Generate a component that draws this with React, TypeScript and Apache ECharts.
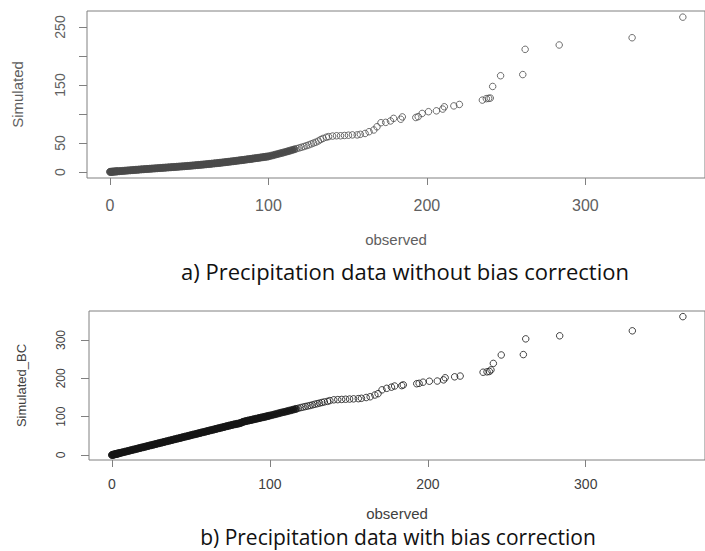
import React, { useEffect, useRef } from "react";
import * as echarts from "echarts";

// Observed quantiles (shared by both panels): dense band then sparse tail
const observedDense = [
  0, 0.5, 1, 1.5, 2, 2.5, 3, 3.5, 4, 4.5, 5, 6, 7, 8, 9, 10, 11, 12, 13, 14, 15, 16, 17, 18, 19, 20,
  21, 22, 23, 24, 25, 26, 27, 28, 29, 30, 31, 32, 33, 34, 35, 36, 37, 38, 39, 40, 41, 42, 43, 44, 45,
  46, 47, 48, 49, 50, 51, 52, 53, 54, 55, 56, 57, 58, 59, 60, 61, 62, 63, 64, 65, 66, 67, 68, 69, 70,
  71, 72, 73, 74, 75, 76, 77, 78, 79, 80, 81, 82, 83, 84, 85, 86, 87, 88, 89, 90, 91, 92, 93, 94, 95,
  96, 97, 98, 99, 100, 101.5, 103, 104.5, 106, 107.5, 109, 110.5, 112, 113.5, 115, 116.5, 118, 119.5,
  121, 122.5, 124, 125.5, 127, 128.5, 130, 131.5, 133, 134.5,
];
const simulatedDense = [
  0.3, 0.4, 0.5, 0.6, 0.7, 0.8, 0.9, 1.0, 1.1, 1.2, 1.3, 1.5, 1.7, 1.9, 2.2, 2.4, 2.6, 2.8, 3.0, 3.3,
  3.5, 3.7, 3.9, 4.1, 4.4, 4.6, 4.8, 5.0, 5.2, 5.4, 5.6, 5.8, 6.0, 6.2, 6.4, 6.6, 6.8, 7.0, 7.2, 7.4,
  7.6, 7.8, 8.0, 8.2, 8.4, 8.6, 8.8, 9.0, 9.2, 9.4, 9.6, 9.8, 10.0, 10.2, 10.5, 10.7, 10.9, 11.2, 11.4,
  11.7, 11.9, 12.2, 12.4, 12.7, 12.9, 13.2, 13.5, 13.8, 14.0, 14.3, 14.6, 14.9, 15.2, 15.5, 15.8, 16.1,
  16.4, 16.7, 17.1, 17.4, 17.7, 18.0, 18.4, 18.7, 19.1, 19.4, 19.8, 20.1, 20.5, 20.8, 21.2, 21.6, 22.0,
  22.3, 22.7, 23.1, 23.5, 23.9, 24.2, 24.6, 25.0, 25.4, 25.8, 26.2, 26.6, 27.0, 28.0, 29.0, 30.1, 31.2,
  32.3, 33.3, 34.4, 35.6, 36.8, 38.0, 39.2, 40.4, 41.6, 42.8, 44.0, 45.4, 46.8, 48.4, 50.0, 51.5, 53.5,
  56.0, 58.0,
];
const simulatedBCDense = [
  0, 0.5, 1, 1.5, 2.1, 2.6, 3.1, 3.6, 4.1, 4.6, 5.1, 6.2, 7.2, 8.2, 9.3, 10.3, 11.3, 12.4, 13.4, 14.4,
  15.5, 16.5, 17.6, 18.6, 19.6, 20.6, 21.7, 22.7, 23.7, 24.8, 25.8, 26.8, 27.9, 28.9, 29.9, 31.0, 32.0,
  33.0, 34.1, 35.1, 36.1, 37.2, 38.2, 39.2, 40.3, 41.3, 42.3, 43.4, 44.4, 45.4, 46.5, 47.5, 48.5, 49.6,
  50.6, 51.6, 52.7, 53.7, 54.7, 55.8, 56.8, 57.8, 58.9, 59.9, 60.9, 62.0, 63.0, 64.0, 65.1, 66.1, 67.1,
  68.2, 69.2, 70.2, 71.3, 72.3, 73.3, 74.4, 75.4, 76.4, 77.5, 78.5, 79.5, 80.3, 81.2, 82.0, 83.0, 84.5,
  86.5, 87.6, 88.6, 89.6, 90.5, 91.4, 92.4, 93.3, 94.3, 95.2, 96.2, 97.1, 98.1, 99.0, 100.0, 100.9,
  101.9, 102.9, 104.4, 106.0, 107.6, 109.3, 110.9, 112.3, 113.8, 115.4, 117.0, 118.6, 120.3, 122.0,
  123.6, 125.0, 126.5, 127.8, 129.2, 130.8, 132.5, 134.0, 135.5, 137.0, 138.5,
];

const observedTail = [
  136.5, 138, 140.5, 143, 145.5, 148, 150.5, 153, 156, 158, 161, 163.5, 166.5, 168.5, 171, 174, 177,
  179, 183.5, 184.5, 193, 194.5, 197, 201, 206, 210, 211, 217, 220.5, 235, 237.5, 239, 240, 241.5,
  246.5, 260.5, 262, 283.5, 329.5, 361.5,
];
const simulatedTail = [
  60, 61, 62, 62.5, 62.5, 63, 63.5, 64, 64, 65, 66.5, 69.5, 72.5, 78, 85, 85.6, 88, 92.5, 91, 95, 94,
  95.5, 101, 104, 105.5, 108.5, 112.5, 114, 116.5, 124, 126.5, 127, 127.5, 147.5, 166, 168, 211.5, 219,
  231.5, 267,
];
const simulatedBCTail = [
  140, 142, 144, 144.5, 145, 145.5, 146, 146.5, 147, 148, 150, 152, 156.5, 160, 170, 174, 177, 180, 181,
  183, 186, 187, 190, 192.5, 193, 196, 201.5, 204, 206, 216, 217, 218, 222, 239, 261, 262, 303, 311,
  324, 361,
];

const xTicks = [0, 100, 200, 300];
const yTicksA = [0, 50, 100, 150, 200, 250];
const yLabelsA = [0, 50, 150, 250];
const yTicksB = [0, 100, 200, 300];

const captionA = "a) Precipitation data without bias correction";
const captionB = "b) Precipitation data with bias correction";

// Where the overlapping circles stop forming a solid band (observed value)
const solidBandLimit = 117;

export default function App() {
  const ref = useRef<HTMLDivElement>(null);

  useEffect(() => {
    if (!ref.current) return;
    const chart = echarts.init(ref.current, undefined, { renderer: "svg" });
    const obs = observedDense.concat(observedTail);
    const simA = simulatedDense.concat(simulatedTail);
    const simB = simulatedBCDense.concat(simulatedBCTail);
    const dataA = obs.map((o, i) => [o, simA[i]]);
    const dataB = obs.map((o, i) => [o, simB[i]]);
    const solidA = dataA.filter((d) => d[0] < solidBandLimit);
    const openA = dataA.filter((d) => d[0] >= solidBandLimit);
    const solidB = dataB.filter((d) => d[0] < solidBandLimit);
    const openB = dataB.filter((d) => d[0] >= solidBandLimit);

    const font = "'Liberation Sans', Arial, sans-serif";
    const frame = "#808080";
    const colA = "#4a4a4a";
    const colB = "#151515";

    const xAxisBase = (
      grid: number,
      labelSize: number,
      labelColor: string,
      margin: number,
      gap: number
    ) => ({
      gridIndex: grid,
      type: "value",
      min: -14.5,
      max: 375.5,
      axisLine: { show: false, onZero: false },
      splitLine: { show: false },
      axisTick: { show: true, length: 7, customValues: xTicks, lineStyle: { color: frame } },
      axisLabel: {
        customValues: xTicks,
        fontSize: labelSize,
        color: labelColor,
        fontFamily: font,
        margin,
      },
      name: "observed",
      nameLocation: "middle",
      nameGap: gap,
      nameTextStyle: { fontSize: 15, color: labelColor, fontFamily: font },
    });

    const scatter = (
      xi: number,
      data: number[][],
      color: string,
      filled: boolean
    ) => ({
      type: "scatter",
      xAxisIndex: xi,
      yAxisIndex: xi,
      data,
      symbol: "circle",
      symbolSize: filled ? 7 : 6.5,
      itemStyle: {
        color: filled ? color : "rgba(0,0,0,0)",
        borderColor: color,
        borderWidth: 1,
      },
      silent: true,
    });

    chart.setOption({
      animation: false,
      grid: [
        { left: 87, top: 11, width: 628, height: 167, show: true, borderColor: frame, borderWidth: 1 },
        { left: 89, top: 311, width: 618, height: 149, show: true, borderColor: frame, borderWidth: 1 },
      ],
      xAxis: [xAxisBase(0, 16, "#606060", 19, 54), xAxisBase(1, 14, "#404040", 17, 46)],
      yAxis: [
        {
          gridIndex: 0,
          type: "value",
          min: -10.3,
          max: 277.6,
          axisLine: { show: false, onZero: false },
          splitLine: { show: false },
          axisTick: { show: true, length: 8, customValues: yTicksA, lineStyle: { color: frame } },
          axisLabel: {
            customValues: yLabelsA,
            rotate: 90,
            fontSize: 14,
            color: "#606060",
            fontFamily: font,
            margin: 20,
          },
          name: "Simulated",
          nameLocation: "middle",
          nameRotate: 90,
          nameGap: 62,
          nameTextStyle: { fontSize: 15, color: "#606060", fontFamily: font },
        },
        {
          gridIndex: 1,
          type: "value",
          min: -13,
          max: 375.7,
          axisLine: { show: false, onZero: false },
          splitLine: { show: false },
          axisTick: { show: true, length: 8, customValues: yTicksB, lineStyle: { color: frame } },
          axisLabel: {
            customValues: yTicksB,
            rotate: 90,
            fontSize: 12,
            color: "#404040",
            fontFamily: font,
            margin: 22,
          },
          name: "Simulated_BC",
          nameLocation: "middle",
          nameRotate: 90,
          nameGap: 61,
          nameTextStyle: { fontSize: 13, color: "#404040", fontFamily: font },
        },
      ],
      series: [
        scatter(0, solidA, colA, true),
        scatter(0, openA, colA, false),
        scatter(1, solidB, colB, true),
        scatter(1, openB, colB, false),
      ],
      graphic: [
        {
          type: "text",
          x: 405,
          y: 271,
          style: {
            text: captionA,
            fill: "#111111",
            fontSize: 22,
            fontFamily: "'Open Sans', sans-serif",
            textAlign: "center",
            textVerticalAlign: "middle",
          },
        },
        {
          type: "text",
          x: 398,
          y: 537,
          style: {
            text: captionB,
            fill: "#111111",
            fontSize: 21,
            fontFamily: "'Open Sans', sans-serif",
            textAlign: "center",
            textVerticalAlign: "middle",
          },
        },
      ],
    });
    return () => chart.dispose();
  }, []);

  return (
    <div
      ref={ref}
      style={{ position: "fixed", left: 0, top: 0, width: 705, height: 551, background: "#ffffff" }}
    />
  );
}
